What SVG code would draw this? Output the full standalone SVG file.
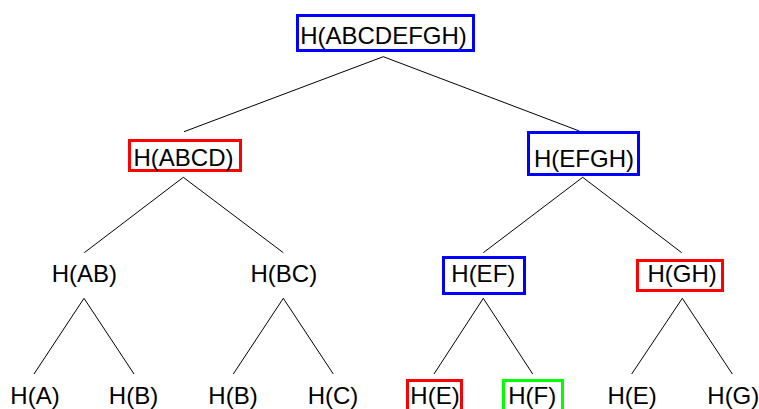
<svg xmlns="http://www.w3.org/2000/svg" width="759" height="409" viewBox="0 0 759 409">
  <style>
    text { font-family: "Liberation Sans", Arial, sans-serif; font-size: 24px; fill: #000; text-anchor: middle; }
    .box { fill: none; stroke-width: 3; }
    .blue { stroke: #0000ff; }
    .red { stroke: #ff0000; }
    .green { stroke: #00ff00; }
    .edges line { stroke: #000; stroke-width: 1; }
  </style>
  <rect width="759" height="409" fill="#fff"/>

  <!-- tree edges -->
  <g id="edges" class="edges">
    <line x1="383.3" y1="56.7" x2="184" y2="131.7"/>
    <line x1="383.3" y1="56.7" x2="579.3" y2="131"/>
    <line x1="183.3" y1="177.3" x2="84.3" y2="252.7"/>
    <line x1="183.3" y1="177.3" x2="283.3" y2="252.7"/>
    <line x1="582.7" y1="177.3" x2="483.3" y2="252.7"/>
    <line x1="582.7" y1="177.3" x2="681.7" y2="252.7"/>
    <line x1="84" y1="298.3" x2="34" y2="374"/>
    <line x1="84" y1="298.3" x2="134" y2="374"/>
    <line x1="283.3" y1="298.3" x2="233.3" y2="374"/>
    <line x1="283.3" y1="298.3" x2="333.3" y2="374"/>
    <line x1="483.3" y1="298.3" x2="434" y2="374"/>
    <line x1="483.3" y1="298.3" x2="532.7" y2="374"/>
    <line x1="682.3" y1="298.3" x2="631.7" y2="374"/>
    <line x1="682.3" y1="298.3" x2="732.3" y2="374"/>
  </g>

  <!-- root -->
  <g id="n-abcdefgh">
    <rect class="box blue" x="297.5" y="15.5" width="176" height="35"/>
    <text x="383.5" y="44">H(ABCDEFGH)</text>
  </g>

  <!-- level 1 -->
  <g id="n-abcd">
    <rect class="box red" x="129.5" y="140.5" width="111" height="30"/>
    <text x="183.5" y="165.5">H(ABCD)</text>
  </g>
  <g id="n-efgh">
    <rect class="box blue" x="528.5" y="132.5" width="110" height="42"/>
    <text x="584" y="166.5">H(EFGH)</text>
  </g>

  <!-- level 2 -->
  <g id="n-ab">
    <text x="84.3" y="282">H(AB)</text>
  </g>
  <g id="n-bc">
    <text x="283.8" y="282">H(BC)</text>
  </g>
  <g id="n-ef">
    <rect class="box blue" x="443.5" y="257.5" width="81" height="36"/>
    <text x="483.3" y="282">H(EF)</text>
  </g>
  <g id="n-gh">
    <rect class="box red" x="637.5" y="260.5" width="85" height="30"/>
    <text x="682.2" y="282">H(GH)</text>
  </g>

  <!-- leaves -->
  <g id="n-a">
    <text x="35" y="403.5">H(A)</text>
  </g>
  <g id="n-b1">
    <text x="133.5" y="403.5">H(B)</text>
  </g>
  <g id="n-b2">
    <text x="233" y="403.5">H(B)</text>
  </g>
  <g id="n-c">
    <text x="333" y="403.5">H(C)</text>
  </g>
  <g id="n-e1">
    <rect class="box red" x="407.5" y="380.5" width="54" height="40"/>
    <text x="435" y="403.5">H(E)</text>
  </g>
  <g id="n-f">
    <rect class="box green" x="503.5" y="380.5" width="59" height="40"/>
    <text x="532.2" y="403.5">H(F)</text>
  </g>
  <g id="n-e2">
    <text x="632.2" y="403.5">H(E)</text>
  </g>
  <g id="n-g">
    <text x="733.3" y="403.5">H(G)</text>
  </g>
</svg>
